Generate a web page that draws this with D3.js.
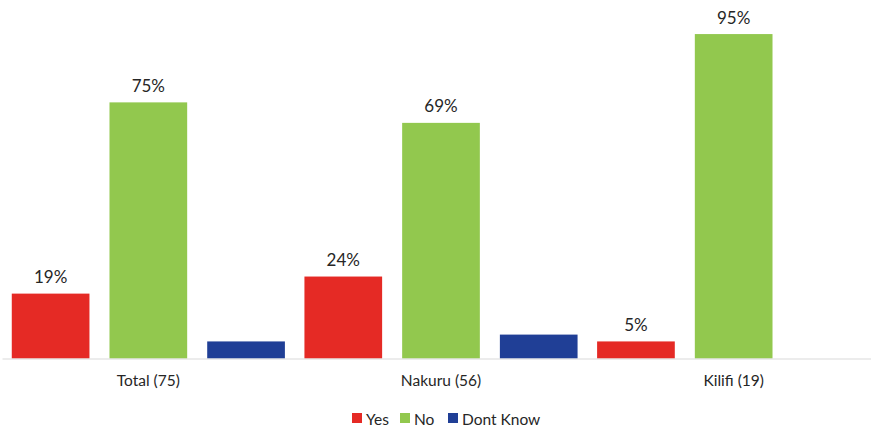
<!DOCTYPE html>
<html>
<head>
<meta charset="utf-8">
<script src="https://cdn.jsdelivr.net/npm/d3@7"></script>
<style>
  html, body { margin: 0; padding: 0; background: #fff; overflow: hidden; }
  svg { display: block; font-family: "Lato", "Open Sans", sans-serif; }
</style>
</head>
<body>
<svg id="chart" width="871" height="426"></svg>
<script>
// Regions and their sample sizes
const categories = ["Total (75)", "Nakuru (56)", "Kilifi (19)"];
const seriesNames = ["Yes", "No", "Dont Know"];
const seriesColors = ["#E52A25", "#92C84E", "#203F96"];
// Percent of respondents per answer, one array per series
const yesValues = [19, 24, 5];
const noValues = [75, 69, 95];
const dontKnowValues = [5, 7, 0];
// Only Yes and No carry value labels
const labelled = [true, true, false];

const series = [yesValues, noValues, dontKnowValues];

const svg = d3.select("#chart");

const x0 = d3.scaleBand().domain(categories).range([2, 880]).padding(0);
const x1 = d3.scaleBand().domain(seriesNames).range([0, x0.bandwidth()])
  .paddingInner(0.205).paddingOuter(0.1);
const y = d3.scaleLinear().domain([0, 100]).range([358.5, 17]);

const rows = [];
categories.forEach((c, i) => {
  seriesNames.forEach((s, j) => {
    rows.push({ cat: c, name: s, value: series[j][i], color: seriesColors[j], label: labelled[j] });
  });
});

// Bars
svg.append("g").selectAll("rect")
  .data(rows.filter(d => d.value > 0))
  .join("rect")
  .attr("x", d => x0(d.cat) + x1(d.name))
  .attr("y", d => y(d.value))
  .attr("width", x1.bandwidth())
  .attr("height", d => y(0) - y(d.value))
  .attr("fill", d => d.color);

// Value labels
svg.append("g").selectAll("text")
  .data(rows.filter(d => d.label))
  .join("text")
  .attr("x", d => x0(d.cat) + x1(d.name) + x1.bandwidth() / 2)
  .attr("y", d => y(d.value) - 10.5)
  .attr("text-anchor", "middle")
  .attr("font-size", 17)
  .attr("fill", "#262626")
  .text(d => d.value + "%");

// Category axis
const xAxis = svg.append("g")
  .attr("transform", `translate(0,${y(0)})`)
  .call(d3.axisBottom(x0).tickSize(0).tickPadding(0));
xAxis.select(".domain").attr("stroke", "#D9D9D9").attr("stroke-width", 1.2);
xAxis.selectAll(".tick text")
  .attr("dy", 0)
  .attr("y", 27)
  .attr("font-size", 15.5)
  .attr("font-family", "Lato, 'Open Sans', sans-serif")
  .attr("fill", "#262626");

// Legend
const legendItems = [
  { name: seriesNames[0], color: seriesColors[0], x: 352 },
  { name: seriesNames[1], color: seriesColors[1], x: 400 },
  { name: seriesNames[2], color: seriesColors[2], x: 448 }
];
const legend = svg.append("g");
const li = legend.selectAll("g").data(legendItems).join("g")
  .attr("transform", d => `translate(${d.x},413)`);
li.append("rect").attr("width", 10).attr("height", 10).attr("fill", d => d.color);
li.append("text")
  .attr("x", 14).attr("y", 11.5)
  .attr("font-size", 15.5)
  .attr("fill", "#262626")
  .text(d => d.name);
</script>
</body>
</html>
